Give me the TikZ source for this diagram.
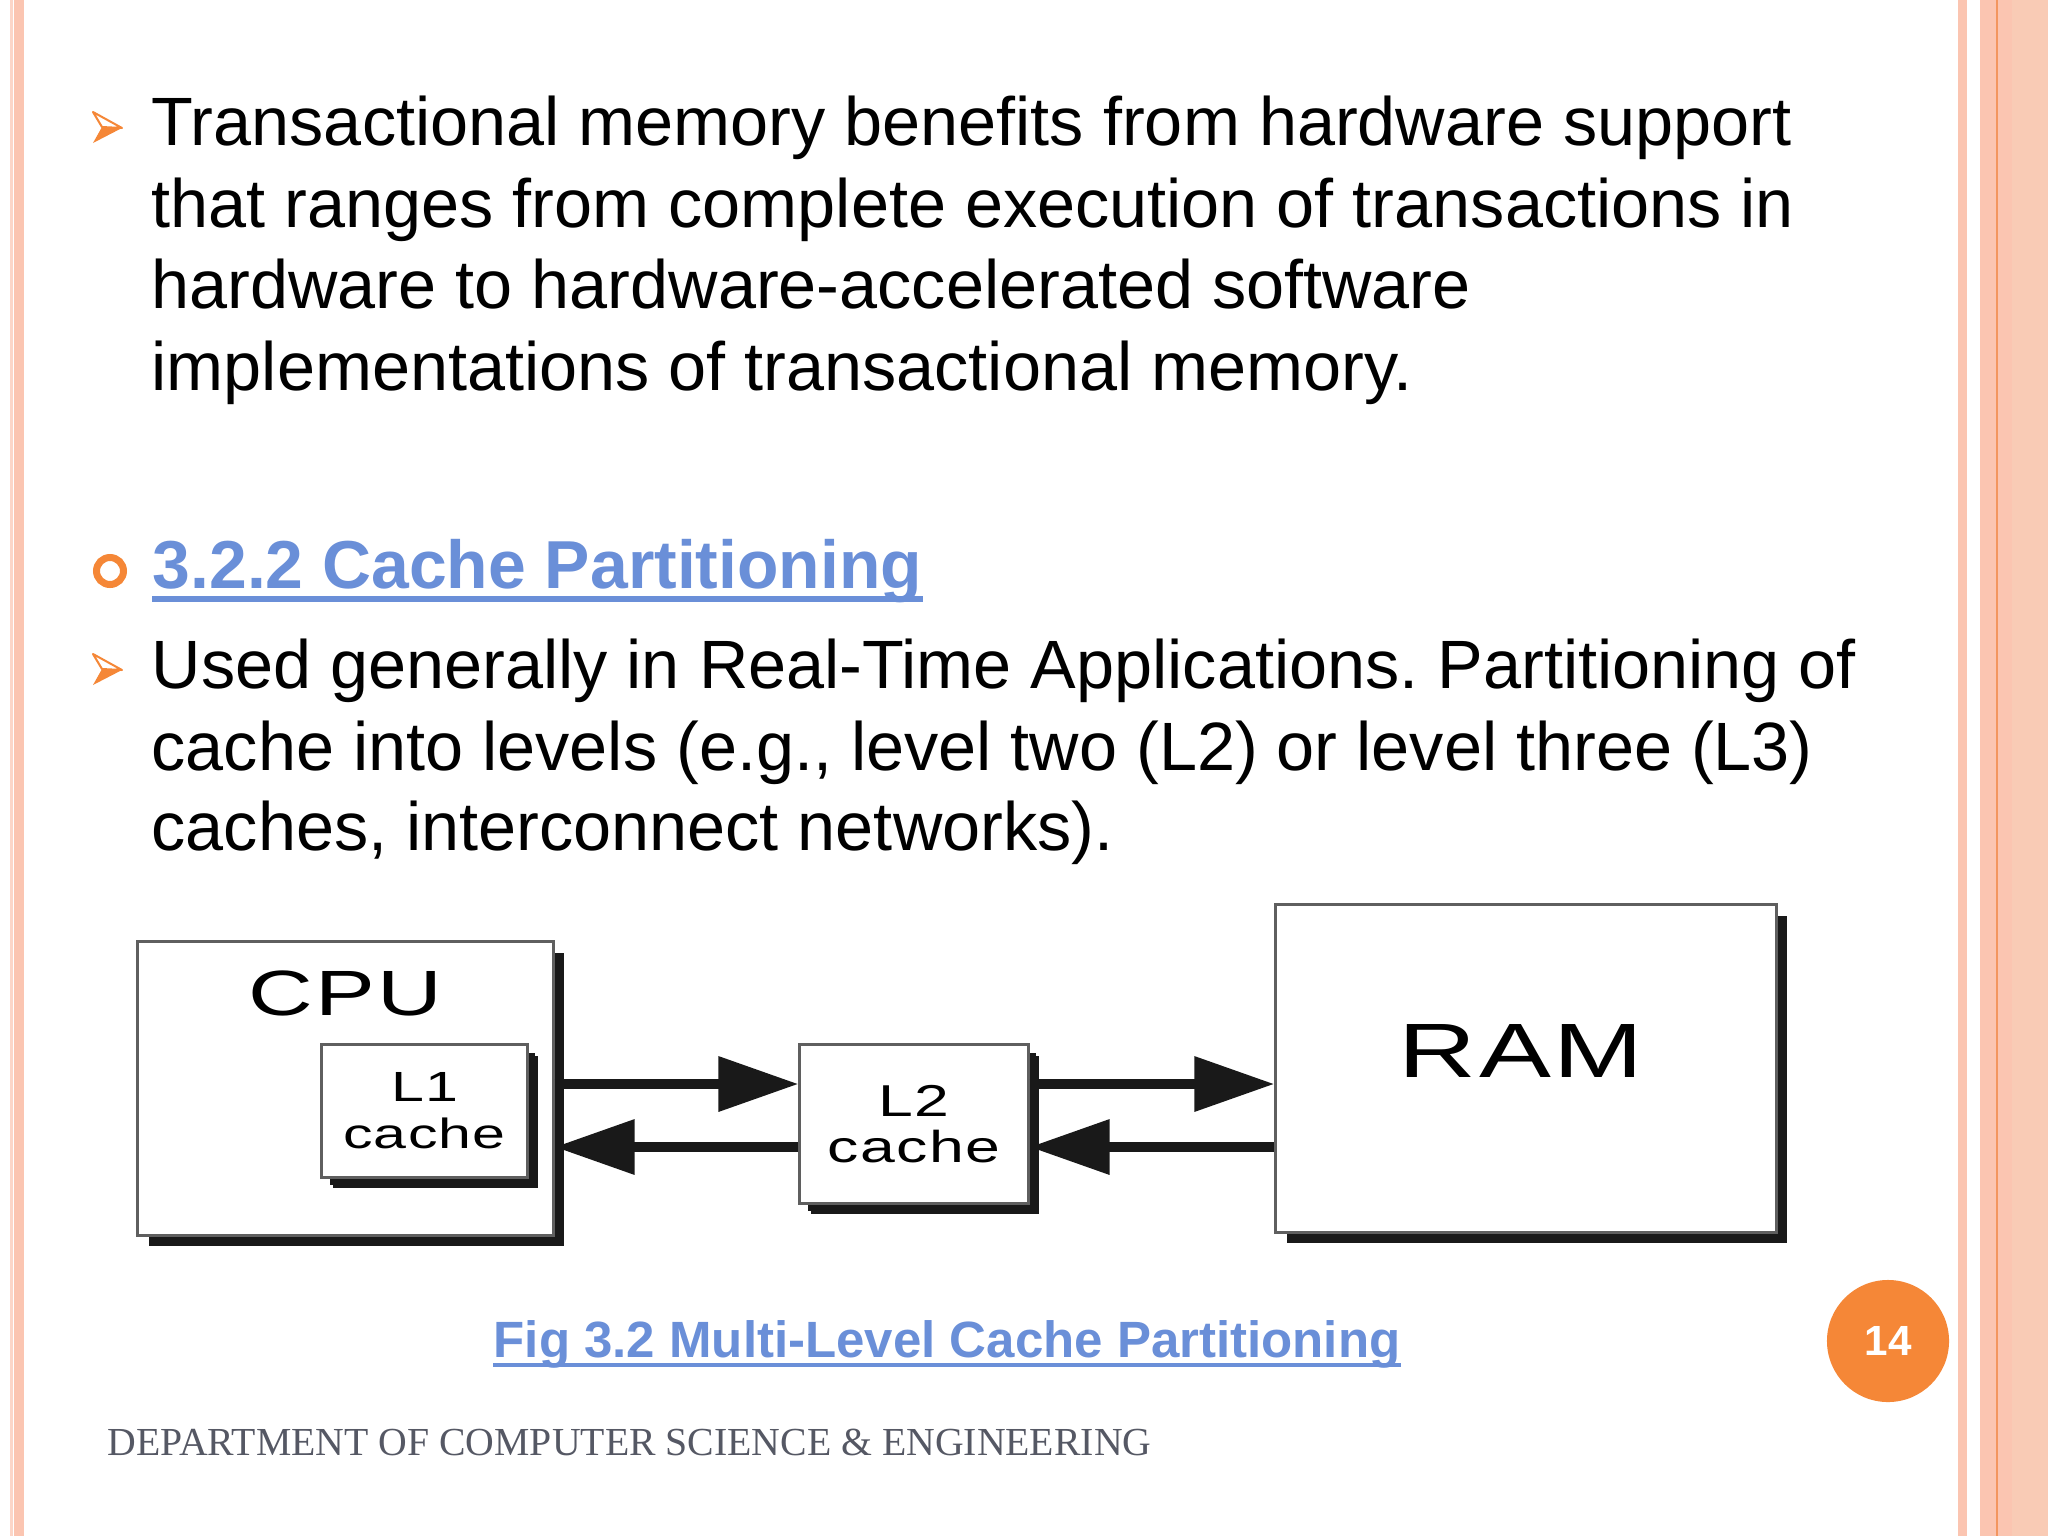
\documentclass[tikz,border=0pt]{standalone}
\usepackage{fontspec}
\usetikzlibrary{arrows.meta,positioning,shadows}
\setmainfont{Liberation Sans}
\newfontfamily\deptfont{Liberation Serif}
\newfontfamily\diagfont[FakeStretch=1.4,LetterSpace=3]{Liberation Sans}
\definecolor{slideorange}{RGB}{245,135,55}
\definecolor{headblue}{RGB}{106,143,216}
\definecolor{stripe}{RGB}{251,197,177}
\definecolor{stripepale}{RGB}{252,214,200}
\definecolor{stripeline}{RGB}{243,150,95}
\definecolor{stripedeep}{RGB}{249,203,181}
\definecolor{deptgray}{RGB}{85,88,100}
\definecolor{boxgray}{RGB}{95,95,95}
\frenchspacing
\tikzset{
  bodyline/.style={anchor=base west, inner sep=0pt, font=\fontsize{19.45pt}{23pt}\selectfont},
  unit/.style={draw=boxgray, line width=0.03cm, fill=white, inner sep=0pt,
    drop shadow={shadow xshift=0.11cm, shadow yshift=-0.11cm, fill=black!90, opacity=1}},
  smallunit/.style={unit, align=center,
    drop shadow={shadow xshift=0.08cm, shadow yshift=-0.08cm, fill=black!90, opacity=1}},
  flow/.style={line width=0.1cm, draw=black!90, -{Triangle[length=0.8cm,width=0.53cm]}},
}
\begin{document}
\begin{tikzpicture}[x=0.01cm, y=-0.01cm]
\useasboundingbox[fill=white] (0,0) rectangle (2048,1536);
% page stripes
\fill[stripepale] (10,0) rectangle (13,1536);
\fill[stripe] (14,0) rectangle (24,1536);
\fill[stripe] (1958,0) rectangle (1967,1536);
\fill[stripe] (1980,0) rectangle (2048,1536);
\fill[stripedeep] (2012,0) rectangle (2048,1536);
\fill[stripeline] (1996,0) rectangle (1998,1536);
% bullets
\foreach \by in {128,670} {
  \draw[slideorange, line width=0.02cm, line join=round] (93,\by-16) -- (122,\by) -- (102,\by-1) -- cycle;
  \fill[slideorange] (102,\by-1) -- (122,\by) -- (93,\by+15) -- cycle;
}
\draw[slideorange, line width=0.07cm] (110,571) circle (13.5);
% text
\node (t1) [bodyline] at (151,145) {Transactional memory benefits from hardware support};
\node (t2) [bodyline] at (151,227) {that ranges from complete execution of transactions in};
\node (t3) [bodyline] at (151,308) {hardware to hardware-accelerated software};
\node (t4) [bodyline] at (151,390) {implementations of transactional memory.};
\node (sect) [anchor=base west, inner sep=0pt, text=headblue, font=\bfseries\fontsize{19.3pt}{22pt}\selectfont] at (152,588) {3.2.2 Cache Partitioning};
\draw[headblue, line width=0.06cm] ([yshift=-0.11cm]sect.base west) -- ([yshift=-0.11cm]sect.base east);
\node (u1) [bodyline] at (151,688) {Used generally in Real-Time Applications. Partitioning of};
\node (u2) [bodyline] at (151,770) {cache into levels (e.g., level two (L2) or level three (L3)};
\node (u3) [bodyline] at (151,850) {caches, interconnect networks).};
% diagram
\node (cpu) [unit, minimum width=4.15cm, minimum height=2.93cm] at (345.5,1088.5) {};
\node (cpulbl) [below=0.3cm of cpu.north, inner sep=0pt, font=\diagfont\fontsize{18.2pt}{20pt}\selectfont] {C\kern0.02cm P\kern0.02cm U};
\node (l1) [smallunit, minimum width=2.05cm, minimum height=1.32cm, font=\diagfont\fontsize{12pt}{13.4pt}\selectfont] at (424.5,1111) {L1\\cache};
\node (l2) [smallunit, minimum width=2.28cm, minimum height=1.58cm, font=\diagfont\fontsize{12.7pt}{13.1pt}\selectfont] at (914,1124) {L2\\cache};
\node (ram) [unit, minimum width=5cm, minimum height=3.27cm] at (1526,1068.5) {};
\node (ramlbl) [below=1.2cm of ram.north, xshift=-0.05cm, inner sep=0pt, font=\diagfont\fontsize{21.9pt}{24pt}\selectfont] {RAM};
\coordinate (upper) at (0,1084);
\coordinate (lower) at (0,1147);
\draw[flow] (cpu.east |- upper) -- (l2.west |- upper);
\draw[flow] (l2.east |- upper) -- (ram.west |- upper);
\draw[flow] (ram.west |- lower) -- (l2.east |- lower);
\draw[flow] (l2.west |- lower) -- (cpu.east |- lower);
\node (figcap) [anchor=base west, inner sep=0pt, text=headblue, font=\bfseries\fontsize{14.5pt}{16pt}\selectfont] at (493,1357) {Fig 3.2 Multi-Level Cache Partitioning};
\draw[headblue, line width=0.045cm] ([yshift=-0.08cm]figcap.base west) -- ([yshift=-0.08cm]figcap.base east);
% footer
\node (pagenum) [circle, fill=slideorange, minimum size=1.22cm, inner sep=0pt, text=white, font=\bfseries\fontsize{12pt}{14pt}\selectfont] at (1888,1341) {14};
\node (dept) [anchor=base west, inner sep=0pt, text=deptgray, font=\deptfont\fontsize{11.3pt}{13pt}\selectfont] at (107,1455) {DEPARTMENT OF COMPUTER SCIENCE \& ENGINEERING};
\end{tikzpicture}
\end{document}
